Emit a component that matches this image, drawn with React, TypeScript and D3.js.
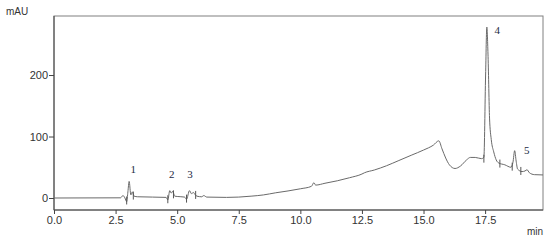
import * as d3 from 'd3';
import React, { useRef, useEffect } from 'react';

// retention time (min) and absorbance (mAU)
const times = [
  0.0, 2.7, 2.8, 2.88, 2.95, 3.0, 3.05, 3.12, 3.18, 3.25, 3.4, 4.0, 4.55, 4.62, 4.7, 4.76, 4.82, 4.9,
  5.0, 5.3, 5.38, 5.5, 5.58, 5.66, 5.72, 5.8, 6.0, 6.08, 6.2, 7.0, 7.5, 8.0, 8.5, 9.0, 9.5, 10.0,
  10.45, 10.55, 10.62, 11.0, 11.5, 12.0, 12.5, 12.6, 13.0, 13.5, 14.0, 14.5, 15.0, 15.4, 15.62, 15.75,
  15.9, 16.05, 16.28, 16.5, 16.75, 16.9, 17.1, 17.35, 17.45, 17.52, 17.57, 17.62, 17.68, 17.75, 17.85,
  17.95, 18.05, 18.3, 18.55, 18.63, 18.7, 18.76, 18.82, 19.0, 19.12, 19.2, 19.3, 19.5, 19.85,
];
const signal = [
  0, 0.3, 4, 0, -6, 10, 27, 5, 10, 3, 2, 1.5, 1, -3, 12, 8, 11, 3,
  2.5, 1.5, -2, 12, 7, 9, 6, 3, 2, 4, 1.5, 1, 1.5, 3, 5, 8.5, 11.5, 15,
  19, 25, 21, 24, 28, 33, 39, 41, 45.5, 52.5, 61, 69.5, 78, 86, 93, 80,
  65, 54, 48, 52, 62, 66, 66, 64, 66, 200, 278, 230, 130, 95, 75,
  62, 57, 54, 50, 58, 77, 60, 47, 43, 44, 46, 41, 38, 37.5,
];

// integration markers
const markerTimes = [2.95, 3.22, 4.62, 4.85, 5.38, 5.75, 17.45, 18.1, 18.6, 18.95];
const markerVals = [-4, 4, -2, 6, -1, 5, 64, 56, 51, 44];

// peak numbers
const peakLabels = ['1', '2', '3', '4', '5'];
const peakT = [3.22, 4.78, 5.52, 17.99, 19.19];
const peakV = [47, 39, 39, 273, 78];

const xMajor = [0, 2.5, 5, 7.5, 10, 12.5, 15, 17.5];
const xMinor = d3.range(0, 19.85, 0.5);
const yMajor = [0, 100, 200];
const yMinor = d3.range(-20, 300, 20);

export default function App() {
  const ref = useRef<SVGSVGElement>(null);

  useEffect(() => {
    const svg = d3.select(ref.current);
    svg.selectAll('*').remove();

    const left = 54, right = 543, top = 16, bottom = 210;
    const x = d3.scaleLinear().domain([0, 19.85]).range([left, right]);
    const y = d3.scaleLinear().domain([-19.5, 296]).range([bottom, top]);

    // frame
    svg.append('rect')
      .attr('x', left).attr('y', top)
      .attr('width', right - left).attr('height', bottom - top)
      .attr('fill', 'none').attr('stroke', '#808080').attr('stroke-width', 1);

    // x axis
    const gx = svg.append('g').attr('transform', `translate(0,${bottom})`);
    gx.call(d3.axisBottom(x).tickValues(xMinor).tickSize(4).tickFormat(() => ''));
    gx.call(d3.axisBottom(x).tickValues(xMajor).tickSize(4).tickPadding(2).tickFormat(d3.format('.1f')));
    gx.selectAll('line').attr('stroke', '#444');
    gx.selectAll('text').attr('fill', '#333').attr('font-size', 11);

    // y axis
    const gy = svg.append('g').attr('transform', `translate(${left},0)`);
    gy.call(d3.axisLeft(y).tickValues(yMinor).tickSize(2.5).tickFormat(() => ''));
    gy.call(d3.axisLeft(y).tickValues(yMajor).tickSize(5).tickPadding(1).tickFormat(d3.format('d')));
    gy.selectAll('line').attr('stroke', '#444');
    gy.selectAll('text').attr('fill', '#333').attr('font-size', 11);

    svg.selectAll('.domain').attr('d', null);
    svg.append('line').attr('x1', left).attr('x2', left).attr('y1', top).attr('y2', bottom)
      .attr('stroke', '#444');
    svg.append('line').attr('x1', left).attr('x2', right).attr('y1', bottom).attr('y2', bottom)
      .attr('stroke', '#444');

    // trace
    const line = d3.line<number>()
      .x((_, i) => x(times[i]))
      .y((d) => y(d))
      .curve(d3.curveMonotoneX);
    svg.append('path')
      .datum(signal)
      .attr('d', line)
      .attr('fill', 'none')
      .attr('stroke', '#6a6a6a')
      .attr('stroke-width', 1);

    // markers
    svg.append('g').selectAll('line')
      .data(markerTimes)
      .join('line')
      .attr('x1', (d) => x(d)).attr('x2', (d) => x(d))
      .attr('y1', (_, i) => y(markerVals[i]) - 4)
      .attr('y2', (_, i) => y(markerVals[i]) + 4)
      .attr('stroke', '#555').attr('stroke-width', 1);

    // peak labels
    svg.append('g').selectAll('text')
      .data(peakLabels)
      .join('text')
      .attr('x', (_, i) => x(peakT[i]))
      .attr('y', (_, i) => y(peakV[i]))
      .attr('dy', '0.35em')
      .attr('text-anchor', 'middle')
      .attr('font-family', '"Liberation Serif", "Times New Roman", serif')
      .attr('font-size', 11)
      .attr('fill', '#1c2a44')
      .text((d) => d);

    svg.append('text').attr('x', 6).attr('y', 15)
      .attr('font-size', 10).attr('fill', '#333').text('mAU');
    svg.append('text').attr('x', 543).attr('y', 235).attr('text-anchor', 'end')
      .attr('font-size', 10).attr('fill', '#333').text('min');
  }, []);

  return (
    <svg
      ref={ref}
      width={550}
      height={242}
      style={{ position: 'absolute', left: 0, top: 0, background: '#fff', fontFamily: '"Liberation Sans", Arial, sans-serif' }}
    />
  );
}
